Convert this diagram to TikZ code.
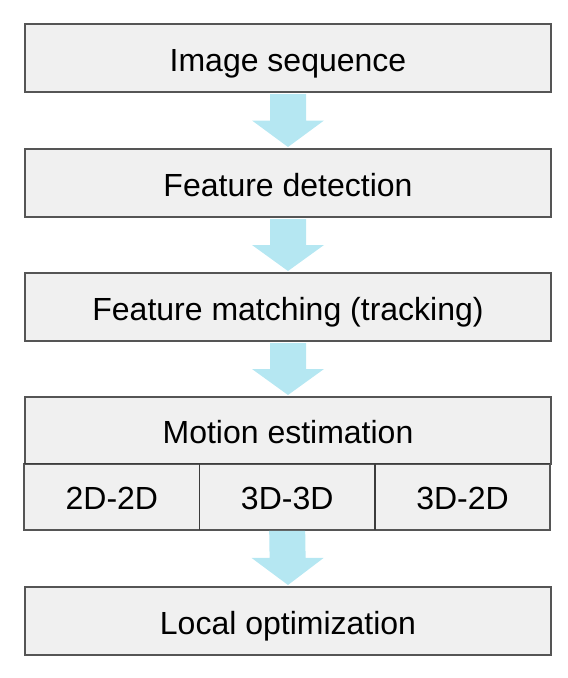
\documentclass[tikz,border=0pt]{standalone}
\usepackage{fontspec}
\setmainfont{Liberation Sans}
\usetikzlibrary{calc}
\definecolor{boxfill}{HTML}{F0F0F0}
\definecolor{boxline}{HTML}{555555}
\definecolor{arrowc}{HTML}{B5E7F2}
\begin{document}
\begin{tikzpicture}[x=1pt,y=-1pt,
  stepbox/.style={draw=boxline,line width=2pt,fill=boxfill,minimum width=526pt,minimum height=68pt,inner sep=0pt,anchor=north west,font=\fontsize{32}{38}\selectfont,text height=26pt,text depth=0pt},
  cellbox/.style={fill=boxfill,minimum width=175.33pt,minimum height=66pt,inner sep=0pt,anchor=north west,font=\fontsize{32}{38}\selectfont,text height=26pt,text depth=0pt},
  divline/.style={draw=boxline!70!black,line width=1.5pt}]
\useasboundingbox (0,0) rectangle (568,678);
\node[stepbox] (a) at (24,23) {Image sequence};
\node[stepbox] (b) at (24,148) {Feature detection};
\node[stepbox] (c) at (24,272) {Feature matching (tracking)};
\node[stepbox,minimum height=67pt] (d) at (24,396) {Motion estimation};
\node[cellbox] (d1) at (24,463.5) {2D-2D};
\node[cellbox] (d2) at (199.33,463.5) {3D-3D};
\node[cellbox] (d3) at (374.67,463.5) {3D-2D};
\draw[boxline,line width=2pt] (d1.north west) rectangle (d3.south east);
\draw[divline] (d1.north west) -- (d3.north east);
\draw[divline] (d1.north east) -- (d1.south east);
\draw[divline] (d2.north east) -- (d2.south east);
\node[stepbox] (e) at (24,586) {Local optimization};
\foreach \s/\t in {a/b,b/c,c/d,d2/e}{
  \path (\s.south) coordinate (s0) (\t.north) coordinate (t0);
  \fill[arrowc] ($(s0)+(-18,1)$) -- ($(s0)+(18,1)$) -- ($(s0)!0.5!(t0)+(18,0)$) -- ($(s0)!0.5!(t0)+(36,0)$) -- ($(t0)+(0,-1)$) -- ($(s0)!0.5!(t0)+(-36,0)$) -- ($(s0)!0.5!(t0)+(-18,0)$) -- cycle;
}
\end{tikzpicture}
\end{document}
